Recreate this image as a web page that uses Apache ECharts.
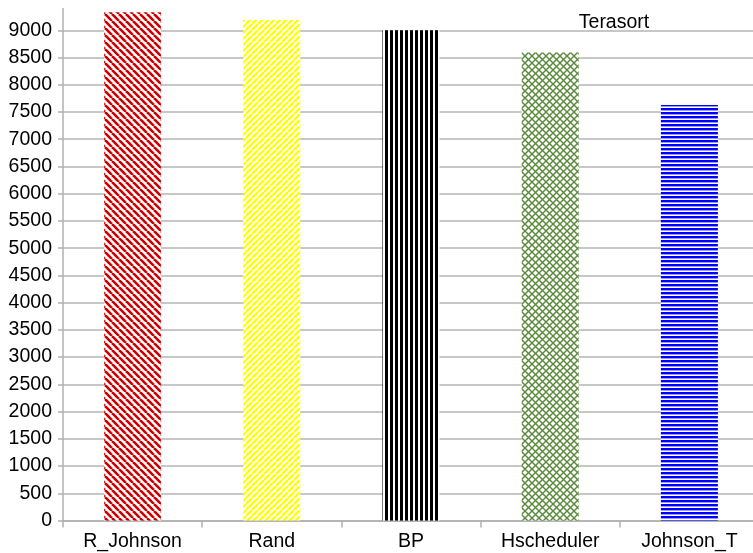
<!DOCTYPE html>
<html>
<head>
<meta charset="utf-8">
<script src="https://cdn.jsdelivr.net/npm/echarts@6/dist/echarts.min.js"></script>
<style>
  html, body { margin: 0; padding: 0; background: #fff; }
  #chart { width: 753px; height: 553px; }
</style>
</head>
<body>
<div id="chart"></div>
<script>
// Terasort runtime per scheduling strategy
const categories = ['R_Johnson', 'Rand', 'BP', 'Hscheduler', 'Johnson_T'];
const runtimes = [9330, 9190, 9000, 8590, 7630];
const yTicks = [0, 500, 1000, 1500, 2000, 2500, 3000, 3500, 4000, 4500,
                5000, 5500, 6000, 6500, 7000, 7500, 8000, 8500, 9000];
const chartTitle = 'Terasort';

// Hatch fills, one per bar
function tile(w, h, draw) {
  const c = document.createElement('canvas');
  c.width = w; c.height = h;
  const ctx = c.getContext('2d');
  ctx.fillStyle = '#ffffff';
  ctx.fillRect(0, 0, w, h);
  draw(ctx, w, h);
  return { image: c, repeat: 'repeat' };
}
function diagonal(color, p, lw, down) {
  return tile(p, p, (ctx) => {
    ctx.strokeStyle = color;
    ctx.lineWidth = lw;
    for (let k = -1; k <= 1; k++) {
      ctx.beginPath();
      if (down) { ctx.moveTo(k * p, 0); ctx.lineTo(k * p + p, p); }
      else { ctx.moveTo(k * p, p); ctx.lineTo(k * p + p, 0); }
      ctx.stroke();
    }
  });
}
const fills = [
  diagonal('#cc0000', 7, 2.6, true),
  diagonal('#ffff00', 6, 2.3, false),
  tile(5, 5, (ctx, w, h) => { ctx.fillStyle = '#000000'; ctx.fillRect(0, 0, 3, h); }),
  tile(7, 7, (ctx, w, h) => {
    ctx.strokeStyle = '#588a3a';
    ctx.lineWidth = 1.4;
    for (let k = -1; k <= 1; k++) {
      ctx.beginPath(); ctx.moveTo(k * w, 0); ctx.lineTo(k * w + w, h); ctx.stroke();
      ctx.beginPath(); ctx.moveTo(k * w, h); ctx.lineTo(k * w + w, 0); ctx.stroke();
    }
  }),
  tile(4, 4, (ctx, w) => { ctx.fillStyle = '#0000ff'; ctx.fillRect(0, 0, w, 2.4); })
];

const font = 'Liberation Sans, Arial, sans-serif';
const chart = echarts.init(document.getElementById('chart'), null, { renderer: 'canvas' });
chart.setOption({
  animation: false,
  backgroundColor: '#ffffff',
  title: {
    text: chartTitle,
    left: 609,
    top: 8,
    textAlign: 'center',
    textStyle: { fontFamily: font, fontSize: 19.5, fontWeight: 'normal', color: '#000' }
  },
  grid: { left: 63, top: 8.5, width: 696, bottom: 32.5, containLabel: false, outerBoundsMode: 'none' },
  xAxis: {
    type: 'category',
    data: categories,
    axisLine: { lineStyle: { color: '#b0b0b0', width: 1.5 } },
    axisTick: { show: true, length: 7, lineStyle: { color: '#b0b0b0', width: 1.5 } },
    axisLabel: { fontFamily: font, fontSize: 19.5, color: '#000', margin: 11 }
  },
  yAxis: {
    type: 'value',
    min: 0,
    max: 9400,
    interval: 500,
    axisLine: { show: true, lineStyle: { color: '#b0b0b0', width: 1.5 } },
    axisTick: { show: true, length: 5, customValues: yTicks, lineStyle: { color: '#b0b0b0', width: 1.5 } },
    axisLabel: {
      fontFamily: font, fontSize: 19.5, color: '#000', margin: 11,
      customValues: yTicks,
      formatter: (v) => String(v)
    },
    splitLine: { show: true, lineStyle: { color: '#b4b4b4', width: 1.5 } }
  },
  series: [{
    type: 'bar',
    barWidth: 57,
    data: runtimes.map((v, i) => ({ value: v, itemStyle: { color: fills[i] } }))
  }]
});
</script>
</body>
</html>
